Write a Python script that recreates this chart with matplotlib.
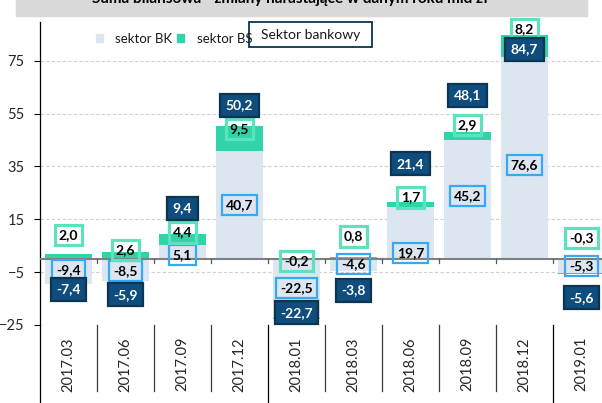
import numpy as np
import matplotlib.pyplot as plt
from matplotlib.patches import Rectangle

plt.rcParams['font.family'] = ['Lato', 'DejaVu Sans']

title = 'Suma bilansowa - zmiany narastające w danym roku mld zł'
categories = ['2017.03', '2017.06', '2017.09', '2017.12', '2018.01',
              '2018.03', '2018.06', '2018.09', '2018.12', '2019.01']
sektor_bk = [-9.4, -8.5, 5.1, 40.7, -22.5, -4.6, 19.7, 45.2, 76.6, -5.3]
sektor_bs = [2.0, 2.6, 4.4, 9.5, -0.2, 0.8, 1.7, 2.9, 8.2, -0.3]
sektor_bankowy = [-7.4, -5.9, 9.4, 50.2, -22.7, -3.8, 21.4, 48.1, 84.7, -5.6]
y_ticks = [-25, -5, 15, 35, 55, 75]

# where the value boxes sit in the original (they were moved by hand)
bk_label_y = [-4.2, -4.5, 1.5, 20.3, -11.0, -1.9, 2.3, 23.9, 35.6, -2.6]
bs_label_y = [9.1, 3.4, 10.0, 49.2, -0.8, 8.5, 23.3, 50.7, 87.0, 7.9]
total_label_y = [-11.5, -13.6, 19.2, 58.2, -20.4, -11.9, 36.0, 62.0, 79.3, -14.7]

BK_COLOR = '#DCE6F1'
BS_COLOR = '#2ED5A8'
BK_EDGE = '#36A9F5'
BS_EDGE = '#5EE2BD'
TOTAL_FACE = '#0E4D7E'
TOTAL_EDGE = '#0B3550'


def fmt(v):
    return f'{v:.1f}'.replace('.', ',')


W, H = 602, 403
fig = plt.figure(figsize=(W / 100, H / 100), dpi=100)
ax = fig.add_axes([40 / W, (H - 325) / H, 570 / W, 303 / H])

x = np.arange(len(categories))
bk = np.array(sektor_bk)
bs = np.array(sektor_bs)
bs_bottom = np.where(np.sign(bk) == np.sign(bs), bk, 0)

ax.bar(x, bk, 0.82, color=BK_COLOR, zorder=2)
ax.bar(x, bs, 0.82, bottom=bs_bottom, color=BS_COLOR, zorder=2)

ax.set_xlim(-0.5, len(categories) - 0.5)
ax.set_ylim(-25, 89.7)
ax.set_yticks(y_ticks)
ax.tick_params(axis='y', length=4, width=0.8, pad=7, labelsize=10.5,
               colors='black', labelcolor='#262626')
ax.set_xticks([])
ax.grid(axis='y', color='#CFCFCF', linestyle=(0, (3, 2)), linewidth=0.8, zorder=0)
for s in ['top', 'right', 'bottom']:
    ax.spines[s].set_visible(False)
ax.spines['left'].set_linewidth(0.9)

# zero line with small ticks between categories
ax.axhline(0, color='#7F7F7F', linewidth=1.5, zorder=3)
trans = ax.get_xaxis_transform()
y0 = 25 / 114.7
for b in x[:-1] + 0.5:
    ax.plot([b, b], [y0, y0 - 0.014], color='#595959', lw=0.9,
            transform=trans, zorder=3)

# category labels below the plot with separators
for i, c in enumerate(categories):
    ax.text(i, -0.04, c, rotation=90, ha='center', va='top', fontsize=10.5,
            color='#262626', transform=trans, clip_on=False)
long_sep = [3.5, 8.5]
for b in x[:-1] + 0.5:
    low = -0.3 if b in long_sep else -0.218
    ax.plot([b, b], [0, low], color='#3A3A3A' if b not in long_sep else 'black',
            lw=0.9, transform=trans, clip_on=False)
ax.plot([-0.5, -0.5], [0, -0.3], color='black', lw=0.9,
        transform=trans, clip_on=False)

# value boxes
for i in range(len(categories)):
    ax.text(i, bk_label_y[i], fmt(sektor_bk[i]), ha='center', va='center',
            fontsize=10, fontweight='bold', color='black', zorder=5,
            bbox=dict(boxstyle='square,pad=0.3', fc='none', ec=BK_EDGE, lw=1.6))
    ax.text(i, bs_label_y[i], fmt(sektor_bs[i]), ha='center', va='center',
            fontsize=10, fontweight='bold', color='black', zorder=5,
            bbox=dict(boxstyle='square,pad=0.3', fc='none', ec=BS_EDGE, lw=2.3))
    ax.text(i, total_label_y[i], fmt(sektor_bankowy[i]), ha='center', va='center',
            fontsize=10, fontweight='bold', color='white', zorder=6,
            bbox=dict(boxstyle='square,pad=0.4', fc=TOTAL_FACE, ec=TOTAL_EDGE, lw=1.6))

# legend, laid out by hand as in the original
legend_items = [('sektor BK', BK_COLOR, 96, 115), ('sektor BS', BS_COLOR, 177, 197)]
for name, col, mx, tx in legend_items:
    fig.patches.append(Rectangle((mx / W, 1 - 42 / H), 7 / W, 8 / H,
                                 transform=fig.transFigure, color=col))
    fig.text(tx / W, 1 - 39 / H, name, ha='left', va='center',
             fontsize=9.5, color='#1A1A1A')
fig.patches.append(Rectangle((249 / W, 1 - 47 / H), 123 / W, 25 / H,
                             transform=fig.transFigure, fill=False,
                             ec=TOTAL_EDGE, lw=1.3))
fig.text(311 / W, 1 - 35 / H, 'Sektor bankowy', ha='center', va='center',
         fontsize=10, color='#1A1A1A')

# title band, cut off at the top like the original
fig.patches.append(Rectangle((16 / W, 1 - 16 / H), 571 / W, 16 / H,
                             transform=fig.transFigure, color='#D9D9D9', zorder=0))
fig.text(290 / W, 1 - 3.5 / H, title, ha='center', va='baseline',
         fontsize=11, fontweight='bold', color='black')

fig.savefig('out.png', dpi=100)
